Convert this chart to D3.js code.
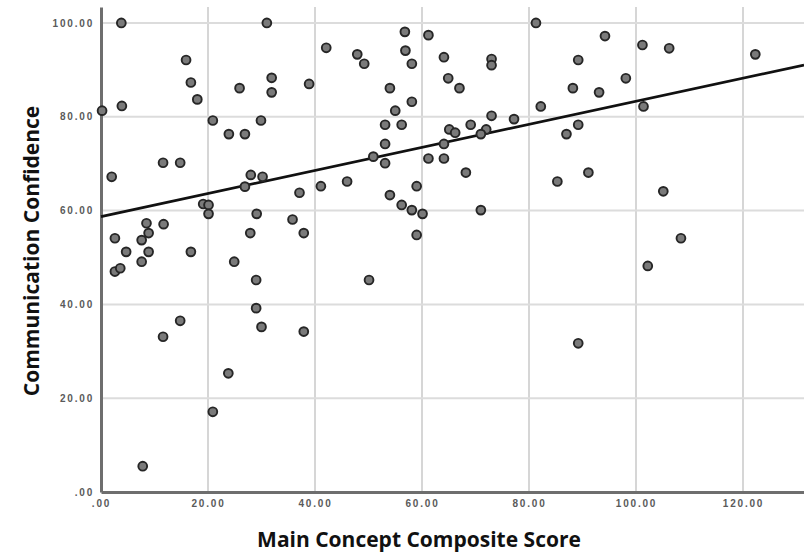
<!DOCTYPE html>
<html>
<head>
<meta charset="utf-8">
<script src="https://cdn.jsdelivr.net/npm/d3@7"></script>
<style>
  html, body { margin: 0; padding: 0; background: #fff; }
  svg { display: block; }
</style>
</head>
<body>
<svg id="chart" width="804" height="554"></svg>
<script>
// Main Concept Composite Score (x) and Communication Confidence (y)
var scoreX = [
  3.8, 31.0, 81.3, 15.9, 16.8, 18.0, 25.9, 0.2, 3.9, 20.9,
  23.9, 26.9, 29.9, 11.6, 14.8, 2.0, 28.0, 30.2, 26.9, 31.9,
  31.9, 42.1, 38.9, 47.9, 49.2, 56.8, 61.2, 56.9, 58.1, 64.1,
  73.0, 73.0, 64.9, 67.0, 54.0, 58.1, 55.0, 53.1, 56.2, 65.1,
  66.2, 69.1, 73.0, 77.2, 72.0, 71.0, 64.1, 53.1, 50.9, 53.1,
  61.2, 64.1, 68.2, 37.1, 41.1, 46.0, 54.0, 59.0, 94.2, 101.2,
  106.2, 122.3, 89.2, 98.1, 88.2, 93.1, 82.2, 101.4, 89.2, 87.0,
  91.1, 85.3, 105.1, 19.1, 20.1, 20.1, 29.1, 11.7, 8.5, 2.6,
  8.9, 7.6, 4.7, 8.9, 7.6, 2.6, 3.6, 16.8, 27.9, 24.9,
  29.0, 14.8, 11.6, 29.0, 30.0, 23.8, 56.2, 58.1, 60.1, 71.0,
  35.8, 37.9, 59.0, 50.1, 37.9, 108.4, 102.2, 89.2, 20.9, 7.8
];
var confidenceY = [
  100.0, 100.0, 100.0, 92.1, 87.3, 83.7, 86.1, 81.3, 82.3, 79.2,
  76.3, 76.3, 79.2, 70.2, 70.2, 67.2, 67.6, 67.2, 65.1, 88.3,
  85.2, 94.7, 87.0, 93.3, 91.3, 98.1, 97.4, 94.1, 91.3, 92.7,
  92.3, 91.0, 88.2, 86.1, 86.1, 83.2, 81.3, 78.3, 78.3, 77.3,
  76.6, 78.3, 80.2, 79.5, 77.3, 76.3, 74.2, 74.2, 71.5, 70.1,
  71.1, 71.1, 68.1, 63.8, 65.2, 66.2, 63.3, 65.2, 97.2, 95.3,
  94.6, 93.3, 92.1, 88.2, 86.1, 85.2, 82.2, 82.2, 78.3, 76.3,
  68.1, 66.2, 64.1, 61.4, 61.2, 59.3, 59.3, 57.1, 57.3, 54.1,
  55.2, 53.7, 51.2, 51.2, 49.1, 47.0, 47.7, 51.2, 55.2, 49.1,
  45.2, 36.5, 33.1, 39.2, 35.2, 25.3, 61.2, 60.1, 59.3, 60.1,
  58.1, 55.2, 54.8, 45.2, 34.2, 54.1, 48.2, 31.7, 17.1, 5.5
];
var xTicks = [0, 20, 40, 60, 80, 100, 120];
var yTicks = [0, 20, 40, 60, 80, 100];
var fitIntercept = 58.7;
var fitSlope = 0.246;

var svg = d3.select('#chart');
var plotLeft = 101, plotRight = 804, plotTop = 7, plotBottom = 492;

var x = d3.scaleLinear().domain([0, 131.4]).range([plotLeft, plotRight]);
var y = d3.scaleLinear().domain([0, 103.4]).range([plotBottom, plotTop]);

var fmt = function(v) { return v === 0 ? '.00' : v.toFixed(2); };

// grid
svg.append('g')
  .selectAll('line')
  .data(xTicks.slice(1))
  .enter().append('line')
    .attr('x1', function(d) { return x(d); })
    .attr('x2', function(d) { return x(d); })
    .attr('y1', plotTop)
    .attr('y2', plotBottom)
    .attr('stroke', '#d6d6d6')
    .attr('stroke-width', 2);

svg.append('g')
  .selectAll('line')
  .data(yTicks.slice(1))
  .enter().append('line')
    .attr('x1', plotLeft)
    .attr('x2', plotRight)
    .attr('y1', function(d) { return y(d); })
    .attr('y2', function(d) { return y(d); })
    .attr('stroke', '#dcdcdc')
    .attr('stroke-width', 2);

// axes
var xAxis = svg.append('g')
    .attr('transform', 'translate(0,' + plotBottom + ')')
    .call(d3.axisBottom(x).tickValues(xTicks).tickFormat(fmt).tickSize(0).tickPadding(8));
var yAxis = svg.append('g')
    .attr('transform', 'translate(' + plotLeft + ',0)')
    .call(d3.axisLeft(y).tickValues(yTicks).tickFormat(fmt).tickSize(0).tickPadding(7));

[xAxis, yAxis].forEach(function(a) {
  a.select('.domain').attr('stroke', '#6e6e6e').attr('stroke-width', 3);
  a.selectAll('text')
    .attr('fill', '#5a5a5a')
    .style('font-family', 'Liberation Sans, Arial, sans-serif')
    .style('font-size', '10px')
    .style('letter-spacing', '1.8px')
    .style('font-weight', 'bold');
});

// fit line
svg.append('line')
  .attr('x1', x(0))
  .attr('y1', y(fitIntercept))
  .attr('x2', x(131.4))
  .attr('y2', y(fitIntercept + fitSlope * 131.4))
  .attr('stroke', '#111')
  .attr('stroke-width', 2.7);

// points
svg.append('g')
  .selectAll('circle')
  .data(scoreX.map(function(v, i) { return [v, confidenceY[i]]; }))
  .enter().append('circle')
    .attr('cx', function(d) { return x(d[0]); })
    .attr('cy', function(d) { return y(d[1]); })
    .attr('r', 4.4)
    .attr('fill', '#7a7a7a')
    .attr('stroke', '#262626')
    .attr('stroke-width', 1.9);

// titles
svg.append('text')
  .attr('x', 419)
  .attr('y', 547)
  .attr('text-anchor', 'middle')
  .style('font-family', 'Open Sans, sans-serif')
  .style('font-weight', 'bold')
  .style('font-size', '21px')
  .attr('fill', '#111')
  .text('Main Concept Composite Score');

svg.append('text')
  .attr('transform', 'translate(39,251) rotate(-90)')
  .attr('text-anchor', 'middle')
  .style('font-family', 'Open Sans, sans-serif')
  .style('font-weight', 'bold')
  .style('font-size', '21px')
  .attr('fill', '#111')
  .text('Communication Confidence');
</script>
</body>
</html>
